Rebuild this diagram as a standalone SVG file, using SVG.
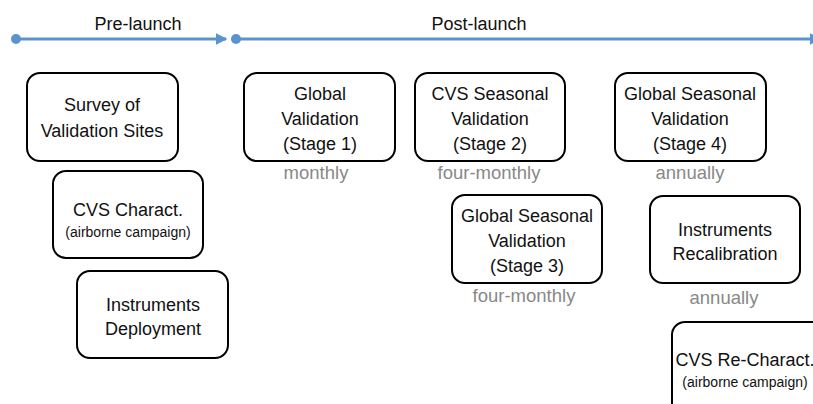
<svg xmlns="http://www.w3.org/2000/svg" width="813" height="404" viewBox="0 0 813 404">
<defs>
<style>
.box{fill:#fff;stroke:#000;stroke-width:2}
.t{font-family:"Liberation Sans",Arial,sans-serif;font-size:18px;fill:#111;text-anchor:middle}
.s{font-family:"Liberation Sans",Arial,sans-serif;font-size:14px;fill:#111;text-anchor:middle}
.g{font-family:"Liberation Sans",Arial,sans-serif;font-size:18.5px;fill:#888;text-anchor:middle}
.tl{stroke:#5b93cc;stroke-width:3;fill:none}
.dot{fill:#5b93cc}
</style>
<marker id="ah" markerWidth="4" markerHeight="4" refX="3.5" refY="2" orient="auto" markerUnits="strokeWidth">
<path d="M0,0 L4,2 L0,4 Z" fill="#5b93cc"/>
</marker>
</defs>
<rect width="813" height="404" fill="#fff"/>
<g id="connectors">
<line class="tl" x1="16" y1="39" x2="226" y2="39" marker-end="url(#ah)"/>
<circle class="dot" cx="16" cy="39" r="5"/>
<line class="tl" x1="236" y1="39" x2="820" y2="39" marker-end="url(#ah)"/>
<circle class="dot" cx="236" cy="39" r="5"/>
<text class="t" x="138" y="30">Pre-launch</text>
<text class="t" x="479" y="30">Post-launch</text>
</g>
<g id="survey">
<rect class="box" x="27" y="73" width="151" height="88" rx="13"/>
<text class="t" x="102" y="111">Survey of</text>
<text class="t" x="102" y="137">Validation Sites</text>
</g>
<g id="cvs-charact">
<rect class="box" x="53" y="171" width="150" height="87" rx="13"/>
<text class="t" x="128" y="216">CVS Charact.</text>
<text class="s" x="128" y="237">(airborne campaign)</text>
</g>
<g id="instruments-deployment">
<rect class="box" x="77" y="271" width="151" height="87" rx="13"/>
<text class="t" x="153" y="311">Instruments</text>
<text class="t" x="153" y="335">Deployment</text>
</g>
<g id="stage1">
<rect class="box" x="244" y="73" width="151" height="88" rx="13"/>
<text class="t" x="320" y="100">Global</text>
<text class="t" x="320" y="125">Validation</text>
<text class="t" x="320" y="150">(Stage 1)</text>
<text class="g" x="316" y="179">monthly</text>
</g>
<g id="stage2">
<rect class="box" x="415" y="73" width="150" height="88" rx="13"/>
<text class="t" x="490" y="100">CVS Seasonal</text>
<text class="t" x="490" y="125">Validation</text>
<text class="t" x="490" y="150">(Stage 2)</text>
<text class="g" x="489" y="179">four-monthly</text>
</g>
<g id="stage3">
<rect class="box" x="452" y="195" width="150" height="88" rx="13"/>
<text class="t" x="527" y="222">Global Seasonal</text>
<text class="t" x="527" y="247">Validation</text>
<text class="t" x="527" y="272">(Stage 3)</text>
<text class="g" x="524" y="302">four-monthly</text>
</g>
<g id="stage4">
<rect class="box" x="615" y="73" width="151" height="88" rx="13"/>
<text class="t" x="690" y="100">Global Seasonal</text>
<text class="t" x="690" y="125">Validation</text>
<text class="t" x="690" y="150">(Stage 4)</text>
<text class="g" x="690" y="179">annually</text>
</g>
<g id="recalibration">
<rect class="box" x="650" y="196" width="150" height="87" rx="13"/>
<text class="t" x="725" y="236">Instruments</text>
<text class="t" x="725" y="260">Recalibration</text>
<text class="g" x="724" y="304">annually</text>
</g>
<g id="cvs-recharact">
<rect class="box" x="672" y="322" width="160" height="100" rx="13"/>
<text class="t" x="745" y="366">CVS Re-Charact.</text>
<text class="s" x="745" y="387">(airborne campaign)</text>
</g>
</svg>
